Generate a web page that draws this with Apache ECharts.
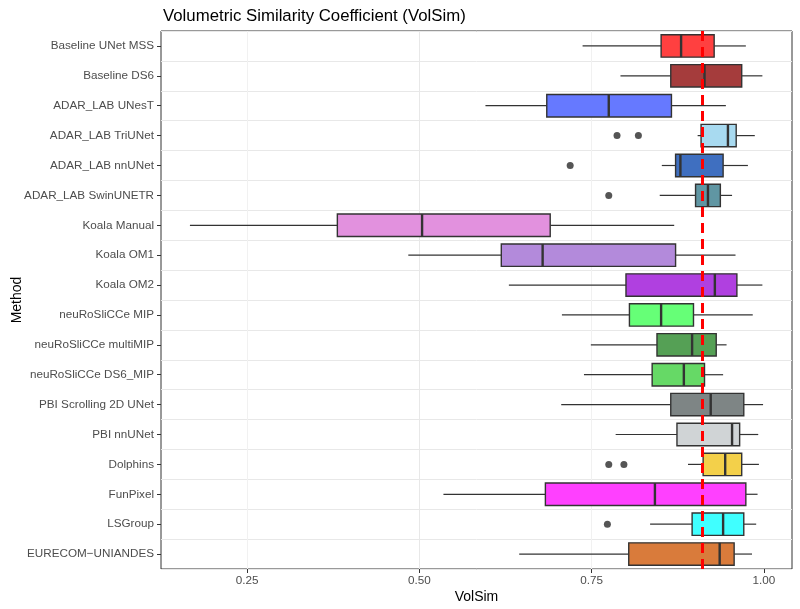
<!DOCTYPE html>
<html>
<head>
<meta charset="utf-8">
<script src="https://cdn.jsdelivr.net/npm/echarts@6/dist/echarts.min.js"></script>
<style>
  html, body { margin: 0; padding: 0; background: #fff; }
  #chart { width: 800px; height: 609px; }
</style>
</head>
<body>
<div id="chart"></div>
<script>
var methods = [
  'Baseline UNet MSS', 'Baseline DS6', 'ADAR_LAB UNesT', 'ADAR_LAB TriUNet',
  'ADAR_LAB nnUNet', 'ADAR_LAB SwinUNETR', 'Koala Manual', 'Koala OM1', 'Koala OM2',
  'neuRoSliCCe MIP', 'neuRoSliCCe multiMIP', 'neuRoSliCCe DS6_MIP',
  'PBI Scrolling 2D UNet', 'PBI nnUNet', 'Dolphins', 'FunPixel', 'LSGroup',
  'EURECOM\u2212UNIANDES'
]
var whiskerLow  = [0.737, 0.792, 0.596, 0.904, 0.852, 0.849, 0.167, 0.484, 0.630, 0.707, 0.749, 0.739, 0.706, 0.785, 0.890, 0.535, 0.835, 0.645]
var q1          = [0.851, 0.865, 0.685, 0.909, 0.872, 0.901, 0.381, 0.619, 0.800, 0.805, 0.845, 0.838, 0.865, 0.874, 0.912, 0.683, 0.896, 0.804]
var median      = [0.880, 0.914, 0.775, 0.948, 0.879, 0.919, 0.504, 0.679, 0.929, 0.851, 0.896, 0.884, 0.923, 0.954, 0.944, 0.842, 0.941, 0.936]
var q3          = [0.928, 0.968, 0.866, 0.960, 0.941, 0.937, 0.690, 0.872, 0.961, 0.898, 0.931, 0.914, 0.971, 0.965, 0.968, 0.974, 0.971, 0.957]
var whiskerHigh = [0.974, 0.998, 0.945, 0.987, 0.977, 0.954, 0.870, 0.959, 0.998, 0.984, 0.946, 0.941, 0.999, 0.992, 0.993, 0.991, 0.989, 0.983]
var fills = [
  '#ff4040', '#a53c3c', '#6679ff', '#a8daf0', '#3f6fc0', '#6096a3', '#e291de', '#b38adb', '#b040e0',
  '#66ff77', '#55a055', '#66d966', '#7e8585', '#d0d4d6', '#f3d04a', '#ff40ff', '#40ffff', '#d97b3b'
]
// [method index, value]
var outliers = [[3, 0.787], [3, 0.818], [4, 0.719], [5, 0.775], [14, 0.775], [14, 0.797], [16, 0.773]]
var refLine = 0.914
var xTicks = [0.25, 0.5, 0.75, 1.0]

var font = 'Liberation Sans, Arial, Helvetica, sans-serif'
var myChart = echarts.init(document.getElementById('chart'))

var boxData = methods.map(function (m, i) {
  return [i, whiskerLow[i], q1[i], median[i], q3[i], whiskerHigh[i]]
})

function renderBox (params, api) {
  var i = api.value(0)
  var lo = api.coord([api.value(1), i])
  var a = api.coord([api.value(2), i])
  var md = api.coord([api.value(3), i])
  var b = api.coord([api.value(4), i])
  var hi = api.coord([api.value(5), i])
  var h = api.size([0, 1])[1] * 0.75
  var y = lo[1]
  var edge = '#333333'
  return {
    type: 'group',
    children: [
      {type: 'line', shape: {x1: lo[0], y1: y, x2: a[0], y2: y}, style: {stroke: edge, lineWidth: 1.2}},
      {type: 'line', shape: {x1: b[0], y1: y, x2: hi[0], y2: y}, style: {stroke: edge, lineWidth: 1.2}},
      {type: 'rect', shape: {x: a[0], y: y - h / 2, width: b[0] - a[0], height: h},
        style: {fill: fills[params.dataIndex], stroke: edge, lineWidth: 1.4}},
      {type: 'line', shape: {x1: md[0], y1: y - h / 2, x2: md[0], y2: y + h / 2}, style: {stroke: edge, lineWidth: 2.4}}
    ]
  }
}

var option = {
  animation: false,
  backgroundColor: '#fff',
  title: {
    text: 'Volumetric Similarity Coefficient (VolSim)',
    left: 158, top: 3,
    textStyle: {fontFamily: font, fontSize: 16.8, fontWeight: 'normal', color: '#000'}
  },
  grid: {
    left: 161, right: 8, top: 31, bottom: 40,
    show: true, borderColor: '#333', borderWidth: 1,
    containLabel: false, outerBoundsMode: 'none'
  },
  xAxis: {
    type: 'value',
    min: 0.125, max: 1.041, interval: 0.125,
    name: 'VolSim', nameLocation: 'middle', nameGap: 21, nameMoveOverlap: false,
    nameTextStyle: {fontFamily: font, fontSize: 14, color: '#000'},
    axisLine: {show: false},
    axisTick: {show: true, length: 4, lineStyle: {color: '#333'}, customValues: xTicks},
    axisLabel: {
      fontFamily: font, fontSize: 11.7, color: '#4d4d4d', margin: 6, customValues: xTicks,
      formatter: function (v) {
        return Math.abs(v * 4 - Math.round(v * 4)) < 1e-6 ? v.toFixed(2) : ''
      }
    },
    splitLine: {show: true, showMaxLine: false, lineStyle: {color: ['#f1f1f1', '#e8e8e8'], width: 1}}
  },
  yAxis: {
    type: 'category',
    data: methods,
    inverse: true,
    name: 'Method', nameLocation: 'middle', nameGap: 137, nameRotate: 90, nameMoveOverlap: false,
    nameTextStyle: {fontFamily: font, fontSize: 14, color: '#000'},
    axisLine: {show: false},
    axisTick: {show: true, alignWithLabel: true, length: 4, lineStyle: {color: '#333'}},
    axisLabel: {fontFamily: font, fontSize: 11.7, color: '#4d4d4d', margin: 7},
    splitLine: {show: true, interval: 0, lineStyle: {color: '#e8e8e8', width: 1}}
  },
  series: [
    {
      type: 'custom',
      renderItem: renderBox,
      encode: {x: [1, 2, 3, 4, 5], y: 0},
      data: boxData,
      z: 2
    },
    {
      type: 'scatter',
      data: outliers.map(function (o) { return [o[1], o[0]] }),
      symbolSize: 7,
      itemStyle: {color: '#555555', opacity: 1},
      z: 3,
      markLine: {
        silent: true,
        symbol: ['none', 'none'],
        label: {show: false},
        lineStyle: {color: '#ff0000', width: 3, type: [10, 6], opacity: 1},
        data: [{xAxis: refLine}],
        z: 5
      }
    }
  ]
}

myChart.setOption(option)
</script>
</body>
</html>
